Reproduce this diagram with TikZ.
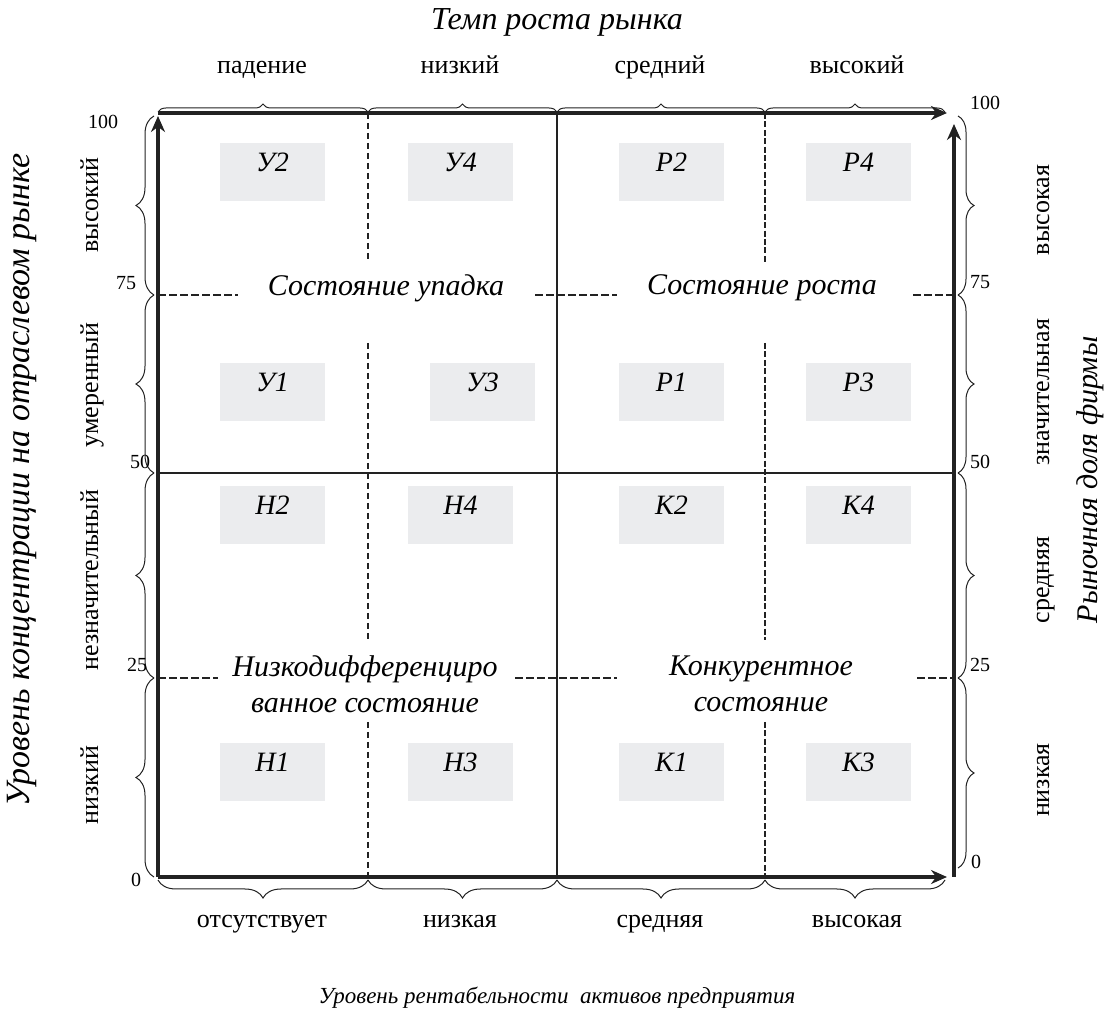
\documentclass[tikz,border=0pt]{standalone}
\usepackage{fontspec}
\setmainfont{Liberation Serif}
\usetikzlibrary{arrows.meta,decorations.pathreplacing,positioning}
\definecolor{cellgray}{RGB}{235,236,238}
\definecolor{ink}{RGB}{34,34,34}
\tikzset{
	axisarrow/.style={line width=2pt,draw=ink,-{Stealth[length=8pt,width=7pt]}},
	midline/.style={line width=0.7pt,draw=ink},
	thindash/.style={line width=0.6pt,draw=ink,dash pattern=on 3pt off 2pt},
	bolddash/.style={line width=1.4pt,draw=ink,dash pattern=on 3pt off 1.2pt},
	leveldash/.style={line width=1.2pt,draw=ink,dash pattern=on 4pt off 1.5pt},
	cell/.style={fill=cellgray,minimum width=52.5pt,text height=9pt,text depth=10pt,inner xsep=0pt,inner ysep=5pt,font=\fontsize{14}{16}\selectfont\itshape},
	brc/.style={decorate,decoration={brace,amplitude=#1},line width=0.5pt,draw=ink},
	ticknum/.style={font=\fontsize{10}{12}\selectfont},
	grade/.style={font=\fontsize{13}{15}\selectfont,text height=9pt,text depth=3pt},
	zone/.style={font=\fontsize{15}{18}\selectfont\itshape,align=center,inner sep=1pt},
	axtitle/.style={font=\fontsize{#1}{18}\selectfont\itshape},
}

\begin{document}
\begin{tikzpicture}[x=0.5pt,y=-0.5pt]
	\useasboundingbox (0,0) rectangle (1110,1021);

	\coordinate (bl) at (158,877);
	\coordinate (tl) at (158,113);
	\coordinate (lt) at (158,116);
	\coordinate (tr) at (947,113);
	\coordinate (br) at (947,877);
	\coordinate (rb) at (954,877);
	\coordinate (rt) at (954,124);

	% cells
	\foreach \lab/\x/\y in {У2/272.5/172.5, У4/460.5/172.5, Р2/671.5/172.5, Р4/858.5/172.5,
		У1/272.5/392.5, У3/482.5/392.5, Р1/671.5/392.5, Р3/858.5/392.5,
		Н2/272.5/515.5, Н4/460.5/515.5, К2/671.5/515.5, К4/858.5/515.5,
		Н1/272.5/772.5, Н3/460.5/772.5, К1/671.5/772.5, К3/858.5/772.5}
		\node[cell] (c\lab) at (\x,\y) {\lab};

	% inner lines
	\draw[midline] (557,113) -- (557,877);
	\draw[midline] (158,473) -- (954,473);
	\foreach \ya/\yb in {113/262, 343/640, 722/877}
		{
		\draw[thindash] (368,\ya) -- (368,\yb);
		\draw[bolddash] (765,\ya) -- (765,\yb);
		}
	\foreach \y/\xa/\xb/\xc/\xd in {295/238/535/617/913, 678/218/515/617/917}
		{
		\draw[leveldash] (158,\y) -- (\xa,\y);
		\draw[leveldash] (\xb,\y) -- (\xc,\y);
		\draw[leveldash] (\xd,\y) -- (954,\y);
		}

	\node[zone] (decline) at (386,288) {Состояние упадка};
	\node[zone] (growth) at (762,288) {Состояние роста};
	\node[zone] (lowdiff) at (365,684) {Низкодифференциро\\ванное состояние};
	\node[zone] (compet) at (761,684) {Конкурентное\\состояние};

	% axes
	\draw[axisarrow] (bl) -- (lt);
	\draw[axisarrow] (tl) -- (tr);
	\draw[axisarrow] (bl) -- (br);
	\draw[axisarrow] (rb) -- (rt);

	% braces
	\foreach \xa/\xb in {158/368, 368/557, 557/765, 765/945}
		{
		\draw[brc=4pt] (\xa,112) -- (\xb,112);
		\draw[brc=9pt] (\xb,880) -- (\xa,880);
		}
	\foreach \ya/\yb in {116/295, 295/473, 473/678, 678/877}
		\draw[brc=9pt] (154,\yb) -- (154,\ya);
	\foreach \ya/\yb in {116/295, 295/473, 473/678, 678/868}
		\draw[brc=8pt] (958,\ya) -- (958,\yb);

	% grades
	\foreach \lab/\x in {падение/262, низкий/460, средний/660, высокий/857}
		\node[grade] at (\x,68) {\lab};
	\foreach \lab/\x in {отсутствует/262, низкая/460, средняя/660, высокая/857}
		\node[grade] at (\x,922) {\lab};
	\foreach \lab/\y in {высокий/205, умеренный/385, незначительный/580, низкий/785}
		\node[grade,rotate=90] at (92,\y) {\lab};
	\foreach \lab/\y in {высокая/210, значительная/392, средняя/580, низкая/780}
		\node[grade,rotate=90] at (1043,\y) {\lab};

	% ticks
	\foreach \lab/\x/\y in {100/103/122, 75/126/283, 50/140/462, 25/137/665, 0/136/880}
		\node[ticknum] at (\x,\y) {\lab};
	\foreach \lab/\x/\y in {100/985/103, 75/980/282, 50/980/462, 25/980/665, 0/976/862}
		\node[ticknum] at (\x,\y) {\lab};

	% titles
	\node[axtitle=16] (ttop) at (557,22) {Темп роста рынка};
	\node[axtitle=11.5] (tbot) at (557,998) {Уровень рентабельности~ активов предприятия};
	\node[axtitle=17,rotate=90] (tleft) at (22,480) {Уровень концентрации на отраслевом рынке};
	\node[axtitle=15,rotate=90] (tright) at (1090,480) {Рыночная доля фирмы};
\end{tikzpicture}
\end{document}
